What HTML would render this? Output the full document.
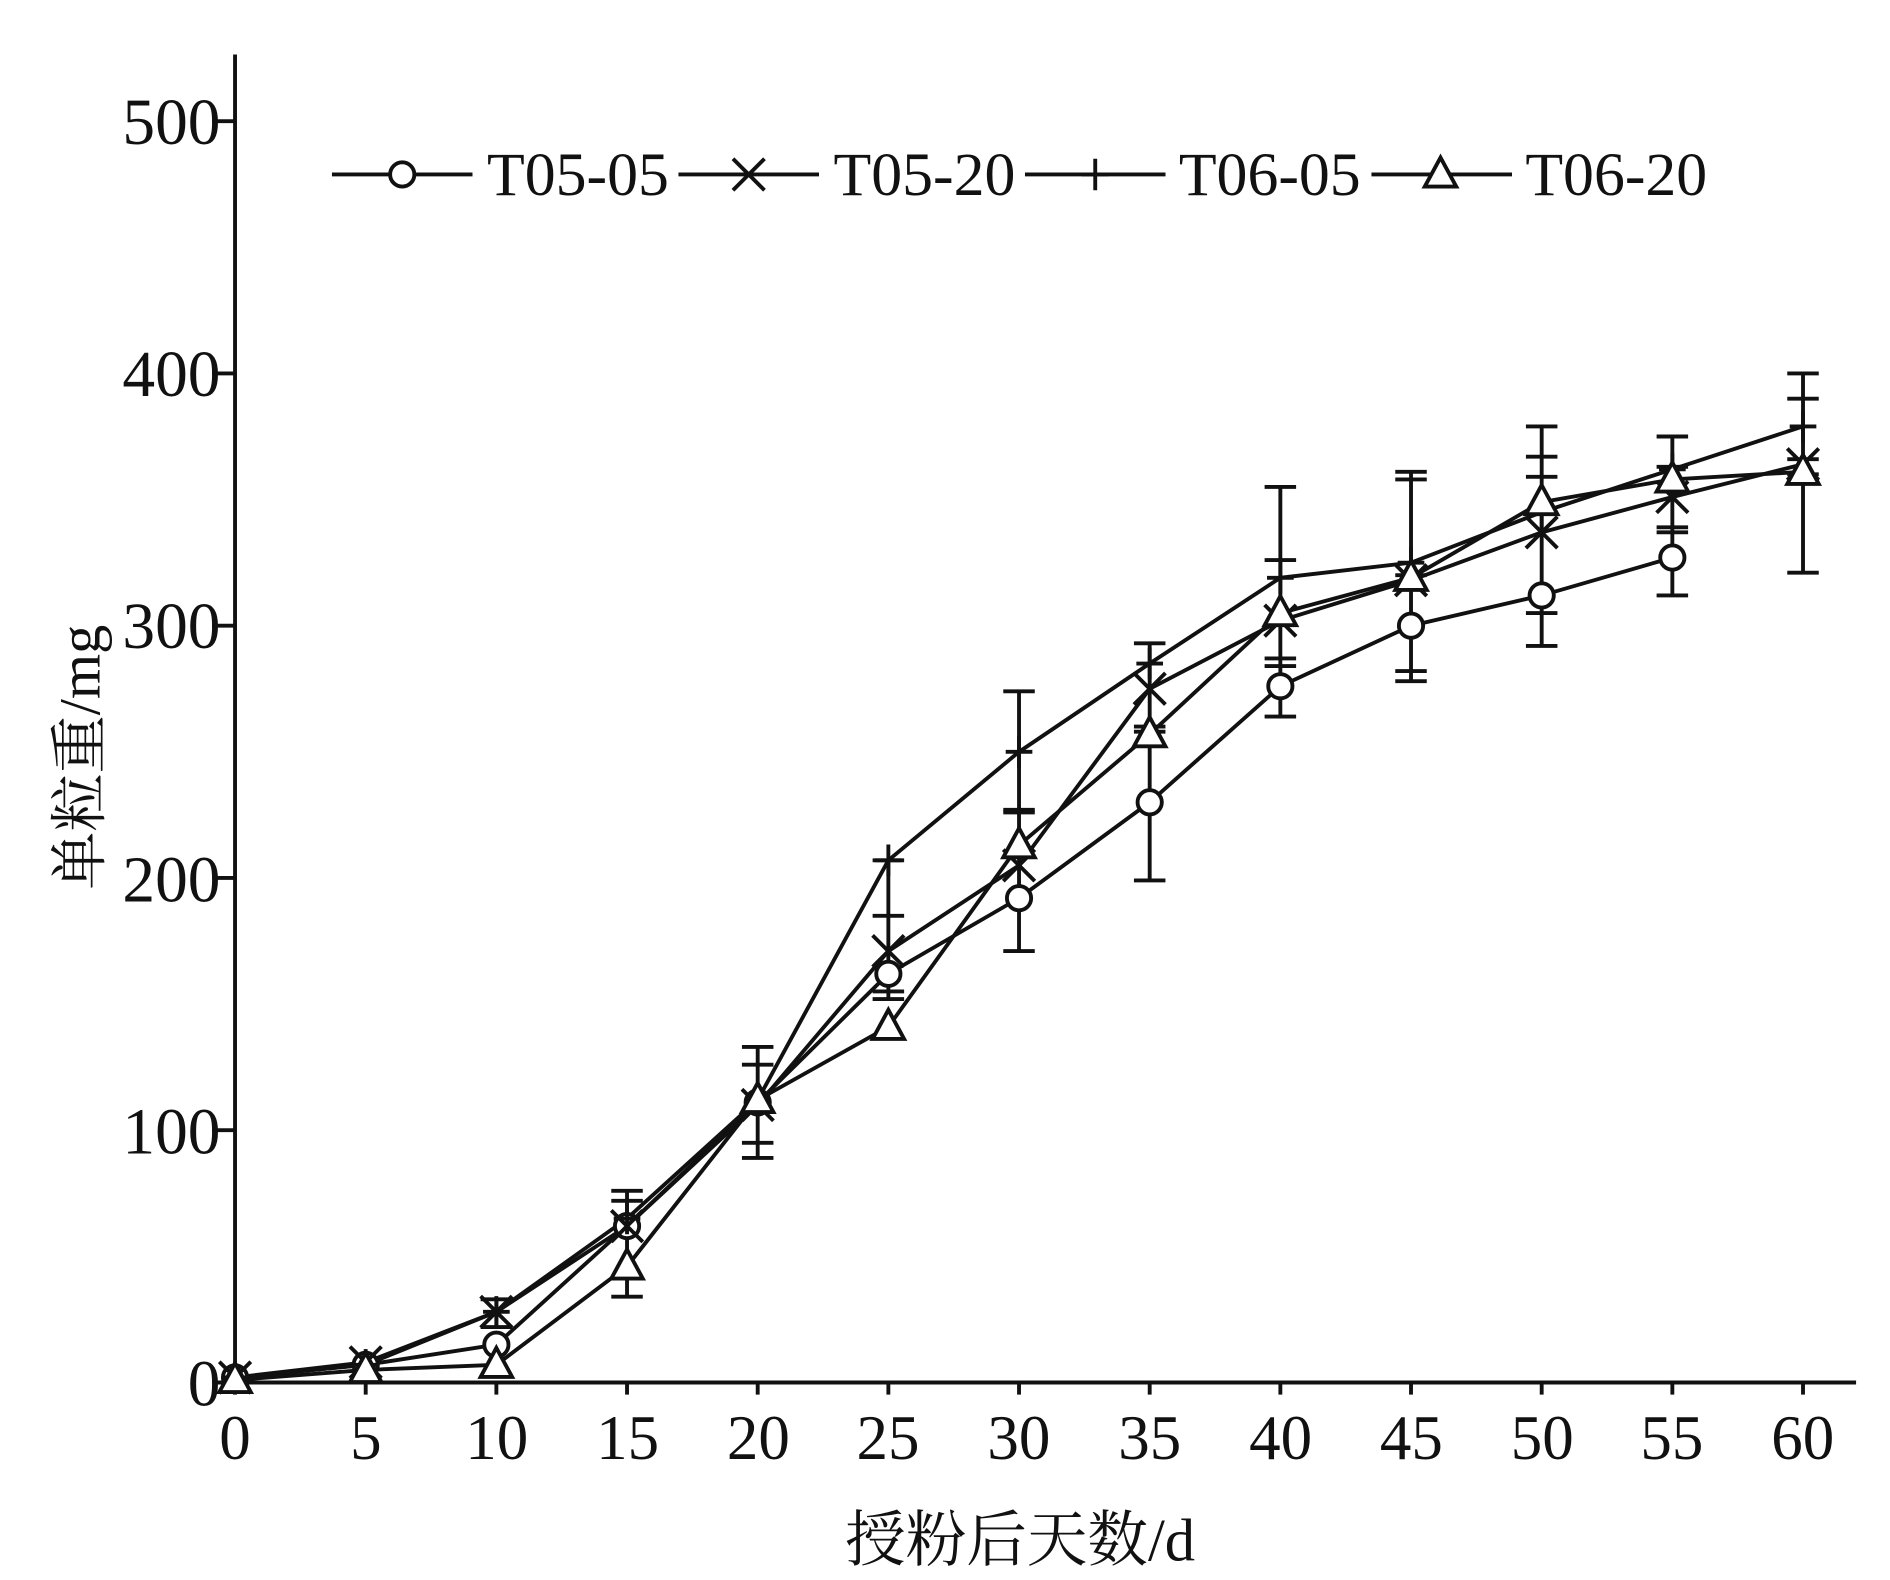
<!DOCTYPE html>
<html><head><meta charset="utf-8"><style>html,body{margin:0;padding:0;background:#fff}svg{display:block}</style></head>
<body>
<svg id="s" width="1890" height="1580" viewBox="0 0 1560 1304" preserveAspectRatio="none" xmlns="http://www.w3.org/2000/svg" font-family="'Liberation Serif','Noto Serif CJK SC',serif" fill="#111">
<g stroke="#111" stroke-width="3.2" fill="none">
<line x1="194" y1="45" x2="194" y2="1142"/>
<line x1="193" y1="1141" x2="1532" y2="1141"/>
</g>
<g font-size="54" text-anchor="end">
<text x="182" y="1160">0</text>
<text x="182" y="952">100</text>
<text x="182" y="744">200</text>
<text x="182" y="535">300</text>
<text x="182" y="327">400</text>
<text x="182" y="119">500</text>
</g>
<g font-size="52" text-anchor="middle">
<text x="194" y="1204">0</text>
<text x="302" y="1204">5</text>
<text x="410" y="1204">10</text>
<text x="518" y="1204">15</text>
<text x="626" y="1204">20</text>
<text x="733" y="1204">25</text>
<text x="841" y="1204">30</text>
<text x="949" y="1204">35</text>
<text x="1057" y="1204">40</text>
<text x="1165" y="1204">45</text>
<text x="1273" y="1204">50</text>
<text x="1380" y="1204">55</text>
<text x="1488" y="1204">60</text>
</g>
<text x="842" y="1288" font-size="50" text-anchor="middle">授粉后天数/d</text>
<text transform="translate(82,625) rotate(-90)" font-size="48" text-anchor="middle">单粒重/mg</text>
<g font-size="51">
<text x="402" y="161">T05-05</text>
<text x="688" y="161">T05-20</text>
<text x="973" y="161">T06-05</text>
<text x="1259" y="161">T06-20</text>
</g>
<g id="g" stroke="#111" stroke-width="3.2" fill="none"></g>
</svg>
<script>
const g=document.getElementById('g');
const X=d=>194+d*21.57, Y=v=>1141-v*2.082;
let h='';
for(let v=0;v<=500;v+=100)h+=`<line x1="175" y1="${Y(v)}" x2="194" y2="${Y(v)}"/>`;
for(let d=0;d<=60;d+=5)h+=`<line x1="${X(d)}" y1="1141" x2="${X(d)}" y2="1151"/>`;
const eb={10:[22,33],15:[34,72,76],20:[89,95,126,133],25:[152,155,185,207],30:[171,226,227,274],35:[199,258,260,293],40:[264,284,287,326,355],45:[278,282,320,358,361],50:[292,305,359,367,379],55:[312,337,339,363,375],60:[321,360,366,390,400]};
for(const d in eb){const a=eb[d];const x=X(+d);h+=`<line x1="${x}" y1="${Y(Math.min(...a))}" x2="${x}" y2="${Y(Math.max(...a))}"/>`;for(const v of a)h+=`<line x1="${x-13}" y1="${Y(v)}" x2="${x+13}" y2="${Y(v)}"/>`;}
const S=[
 ['o',[2,7,15,62,111,162,192,230,276,300,312,327]],
 ['x',[2,8,28,62,110,171,205,275,302,318,337,351,364]],
 ['+',[2,7,28,65,112,207,250,285,319,325,345,362,379]],
 ['t',[1,5,7,46,112,141,213,257,305,319,349,358,361]]];
function mk(t,x,y){
 if(t=='o')return `<circle cx="${x}" cy="${y}" r="10" fill="#fff"/>`;
 if(t=='x')return `<path d="M${x-13} ${y-13}L${x+13} ${y+13}M${x-13} ${y+13}L${x+13} ${y-13}"/>`;
 if(t=='+')return `<path d="M${x-11} ${y}H${x+11}M${x} ${y-13}V${y+13}"/>`;
 return `<path d="M${x} ${y-14}L${x+13} ${y+10}H${x-13}Z" fill="#fff"/>`;
}
for(const [t,a] of S){h+=`<polyline points="${a.map((v,i)=>X(i*5)+','+Y(v)).join(' ')}"/>`;}
for(const [t,a] of S){a.forEach((v,i)=>h+=mk(t,X(i*5),Y(v)));}
const L=[[274,390,332,'o'],[560,676,618,'x'],[846,962,904,'+'],[1132,1248,1189,'t']];
for(const [a,b,c,t] of L){h+=`<line x1="${a}" y1="144" x2="${b}" y2="144"/>`+mk(t,c,144);}
g.innerHTML=h;
</script>
</body></html>
